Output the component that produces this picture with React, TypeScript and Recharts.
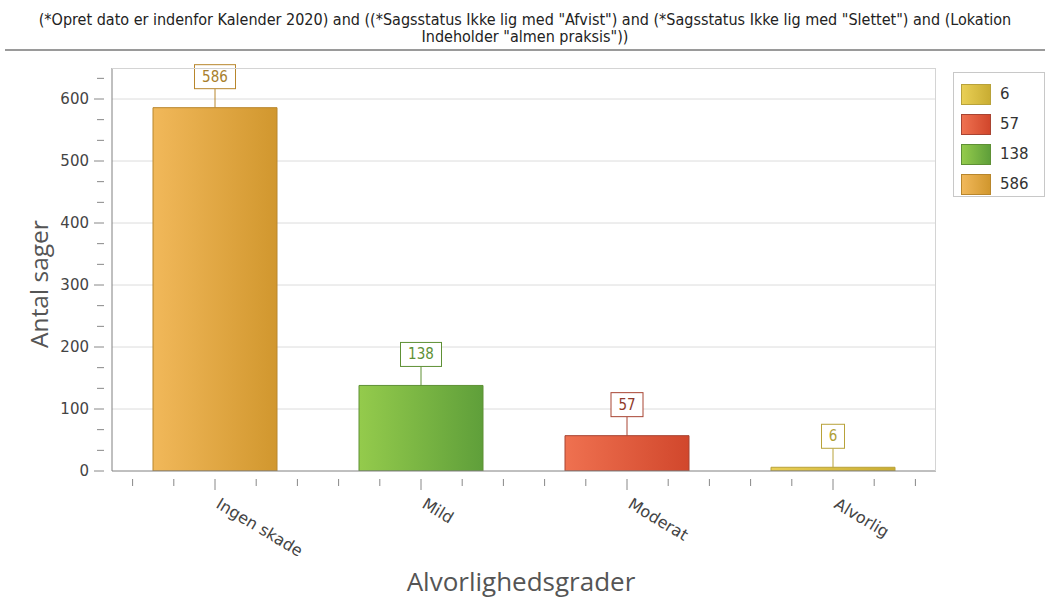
import React from 'react';
import { BarChart, Bar, XAxis, YAxis, CartesianGrid, Cell, LabelList } from 'recharts';

const categories = ['Ingen skade', 'Mild', 'Moderat', 'Alvorlig'];
const counts = [586, 138, 57, 6];
const yGridTicks = [100, 200, 300, 400, 500, 600];
const yMinorTicks = [0, 33.3, 66.7, 100, 133.3, 166.7, 200, 233.3, 266.7, 300, 333.3, 366.7, 400, 433.3, 466.7, 500, 533.3, 566.7, 600, 633.3];
const legendOrder = [3, 2, 1, 0];

const barColors = [
  { light: '#f1b85a', dark: '#d1972e', edge: '#b8862c', text: '#a8802c' },
  { light: '#94cb4c', dark: '#5f9f3a', edge: '#5e9035', text: '#5e9035' },
  { light: '#ef7150', dark: '#d1472c', edge: '#a84432', text: '#8f3a2c' },
  { light: '#e9cf55', dark: '#c9ad33', edge: '#b8a23a', text: '#b0a035' },
];

const data = categories.map((name, i) => ({ name, value: counts[i] }));

const YTick = (props: any) => {
  const { x, y, payload } = props;
  const major = Math.abs(payload.value % 100) < 0.5;
  return (
    <g>
      <line x1={x} x2={x - (major ? 10 : 7)} y1={y} y2={y} stroke="#888" />
      {major && (
        <text x={x - 15} y={y} dy={5} textAnchor="end" fontSize={15} fill="#444" fontFamily="DejaVu Sans">
          {payload.value}
        </text>
      )}
    </g>
  );
};

const XTick = (props: any) => {
  const { x, y, payload } = props;
  const step = 206 / 5;
  return (
    <g>
      {[-2, -1, 0, 1, 2].map((k) => (
        <line key={k} x1={x + k * step} x2={x + k * step} y1={y} y2={y + (k === 0 ? 11 : 7)} stroke="#888" />
      ))}
      <text
        x={x}
        y={y + 28}
        fontSize={16}
        fill="#444"
        fontFamily="DejaVu Sans"
        transform={`rotate(31 ${x} ${y + 28})`}
        textAnchor="start"
      >
        {payload.value}
      </text>
    </g>
  );
};

const ValueLabel = (props: any) => {
  const { x, y, width, value, index } = props;
  const c = barColors[index];
  const cx = x + width / 2;
  const w = String(value).length * 9 + 14;
  const h = 24;
  return (
    <g>
      <line x1={cx} x2={cx} y1={y} y2={y - 19} stroke={c.edge} />
      <rect x={cx - w / 2} y={y - 19 - h} width={w} height={h} fill="#fff" stroke={c.edge} />
      <text x={cx} y={y - 19 - h / 2} dy={5} textAnchor="middle" fontSize={15} fill={c.text} fontFamily="DejaVu Sans Condensed">
        {value}
      </text>
    </g>
  );
};

export default function App() {
  return (
    <div style={{ position: 'absolute', left: 0, top: 0, width: 1050, height: 605, background: '#fff', fontFamily: 'DejaVu Sans' }}>
      <div
        style={{
          position: 'absolute',
          left: 0,
          top: 11,
          width: 1050,
          textAlign: 'center',
          fontSize: 16,
          lineHeight: '17px',
          color: '#222',
          fontFamily: 'DejaVu Sans Condensed',
        }}
      >
        (*Opret dato er indenfor Kalender 2020) and ((*Sagsstatus Ikke lig med "Afvist") and (*Sagsstatus Ikke lig med "Slettet") and (Lokation
        <br />
        Indeholder "almen praksis"))
      </div>
      <div style={{ position: 'absolute', left: 5, top: 49, width: 1040, height: 2, background: '#9a9a9a' }} />
      <BarChart
        width={1050}
        height={605}
        data={data}
        margin={{ top: 68, right: 114, left: 0, bottom: 0 }}
        barCategoryGap={41}
      >
        <defs>
          {barColors.map((c, i) => (
            <linearGradient key={i} id={`grad${i}`} x1="0" y1="0" x2="1" y2="0">
              <stop offset="0%" stopColor={c.light} />
              <stop offset="100%" stopColor={c.dark} />
            </linearGradient>
          ))}
        </defs>
        <CartesianGrid vertical={false} horizontalValues={yGridTicks} stroke="#dcdcdc" />
        <XAxis
          dataKey="name"
          axisLine={{ stroke: '#808080' }}
          tickLine={false}
          tick={<XTick />}
          interval={0}
          height={134}
        />
        <YAxis
          domain={[0, 650]}
          ticks={yMinorTicks}
          interval={0}
          axisLine={{ stroke: '#808080' }}
          tickLine={false}
          tick={<YTick />}
          width={112}
          allowDataOverflow
        />
        <Bar dataKey="value" isAnimationActive={false}>
          {data.map((d, i) => (
            <Cell key={d.name} fill={`url(#grad${i})`} stroke={barColors[i].edge} strokeWidth={1} />
          ))}
          <LabelList dataKey="value" content={<ValueLabel />} />
        </Bar>
      </BarChart>
      <div style={{ position: 'absolute', left: 112, top: 68, width: 824, height: 403, border: '1px solid #d4d4d4', borderLeft: 'none', borderBottom: 'none', boxSizing: 'border-box', pointerEvents: 'none' }} />
      <div
        style={{
          position: 'absolute',
          left: 38,
          top: 284,
          transform: 'translate(-50%, -50%) rotate(-90deg)',
          fontSize: 24.5,
          color: '#555',
          fontFamily: 'Open Sans',
          whiteSpace: 'nowrap',
        }}
      >
        Antal sager
      </div>
      <div
        style={{
          position: 'absolute',
          left: 0,
          width: 1042,
          top: 563,
          textAlign: 'center',
          fontSize: 26,
          color: '#555',
          fontFamily: 'Open Sans',
        }}
      >
        Alvorlighedsgrader
      </div>
      <div
        style={{
          position: 'absolute',
          left: 953,
          top: 72,
          width: 92,
          height: 125,
          border: '1px solid #c8c8c8',
          boxSizing: 'border-box',
          padding: '6px 0 0 7px',
        }}
      >
        {legendOrder.map((i) => (
          <div key={i} style={{ display: 'flex', alignItems: 'center', height: 30 }}>
            <div
              style={{
                width: 30,
                height: 21,
                background: `linear-gradient(to right, ${barColors[i].light}, ${barColors[i].dark})`,
                border: `1px solid ${barColors[i].edge}`,
                boxSizing: 'border-box',
              }}
            />
            <span style={{ marginLeft: 9, fontSize: 15, color: '#333', fontFamily: 'DejaVu Sans' }}>{counts[i]}</span>
          </div>
        ))}
      </div>
    </div>
  );
}
